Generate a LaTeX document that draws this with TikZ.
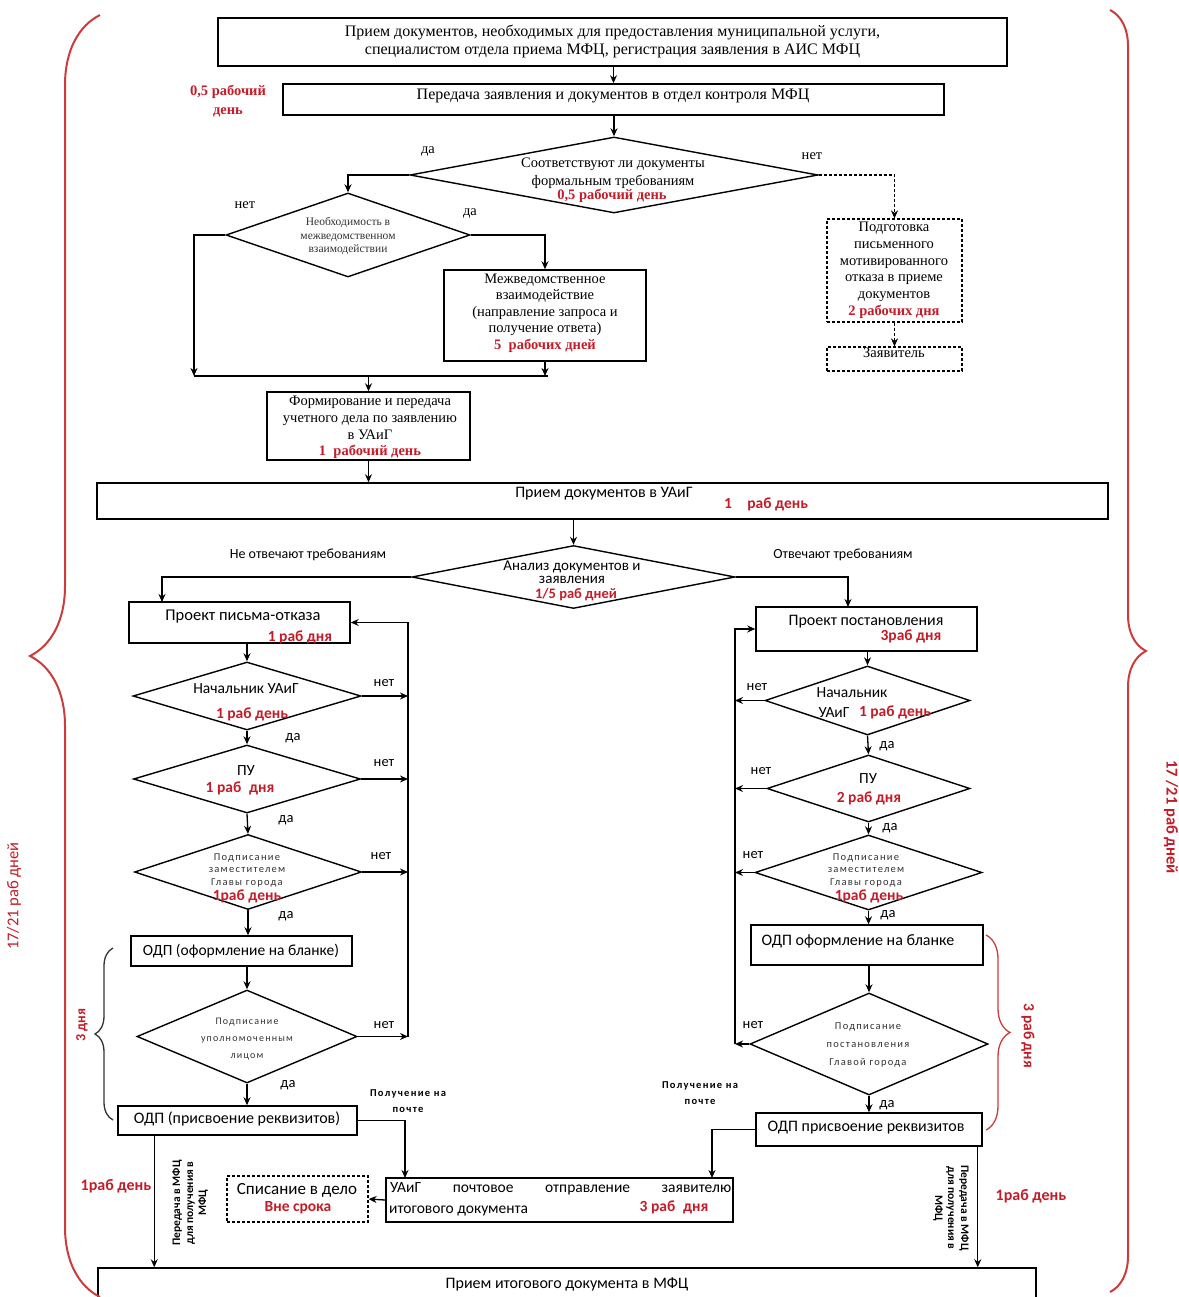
\documentclass[tikz,border=0pt]{standalone}
\usepackage{fontspec}
\setmainfont{Liberation Serif}
\newfontfamily\sansf{Carlito}
\newfontfamily\sansw{Carlito}[LetterSpace=12]
\usetikzlibrary{arrows.meta,shapes.geometric,decorations.pathreplacing,calc}
\definecolor{rd}{RGB}{196,28,40}
\definecolor{brc}{RGB}{205,60,60}
\begin{document}
\begin{tikzpicture}[x=1pt,y=-1pt,
  box/.style={draw, line width=1.5pt, rectangle, inner sep=0},
  dbox/.style={draw, densely dashed, line width=1.2pt, rectangle, inner sep=0},
  dia/.style={draw, diamond, line width=1.4pt, inner sep=0},
  conn/.style={line width=1.3pt},
  arr/.style={conn, -{Stealth[length=8pt,width=7pt]}},
  darr/.style={conn, densely dashed, -{Stealth[length=8pt,width=7pt]}},
  sr/.style={inner sep=0, align=center, font=\fontsize{16}{18}\selectfont},
  srs/.style={inner sep=0, align=center, font=\fontsize{14.5}{16.8}\selectfont},
  srr/.style={inner sep=0, align=center, text=rd, font=\bfseries\fontsize{14.5}{16}\selectfont},
  ss/.style={inner sep=0, align=center, font=\sansf\fontsize{15.5}{16}\selectfont},
  ssm/.style={inner sep=0, align=center, text=black!80, font=\sansw\fontsize{10.5}{12.5}\selectfont},
  ssr/.style={inner sep=0, align=center, text=rd, font=\sansf\bfseries\fontsize{15.5}{16}\selectfont},
  lab/.style={inner sep=0, font=\sansf\fontsize{14.5}{15}\selectfont},
  slab/.style={inner sep=0, font=\fontsize{14.5}{15}\selectfont},
  pst/.style={inner sep=0, align=center, font=\sansw\bfseries\fontsize{10.5}{16}\selectfont},
  bigbr/.style={draw=brc, line width=2pt, decorate}
]
\useasboundingbox (0,0) rectangle (1178,1297);
\fill[white] (0,0) rectangle (1178,1297);

% ---------- upper part ----------
\node[box, minimum width=789, minimum height=48] (A) at (612.5,42) {};
\node[sr] (tA) at (612.5,41) {Прием документов, необходимых для предоставления муниципальной услуги,\\специалистом отдела приема МФЦ, регистрация заявления в АИС МФЦ};
\node[box, minimum width=661, minimum height=31] (B) at (613.5,99.5) {};
\node[sr] (tB) at (613,96) {Передача заявления и документов в отдел контроля МФЦ};
\node[srr, font=\bfseries\fontsize{14.5}{19}\selectfont] (tB2) at (228,101) {0,5 рабочий\\день};

\node[dia, minimum width=408, minimum height=76] (C) at (614,175) {};
\node[srs, font=\fontsize{14.5}{18}\selectfont] (tC) at (613,173) {Соответствуют ли документы\\формальным требованиям};
\node[srr] (tC2) at (612,196) {0,5 рабочий день};
\node[slab] (da1) at (428,152) {да};
\node[slab] (net1) at (812,156) {нет};

\node[dia, minimum width=244, minimum height=84] (D) at (348,235) {};
\node[inner sep=0, align=center, text=black!80, font=\fontsize{11.5}{13.5}\selectfont] (tD) at (348,236) {Необходимость в\\межведомственном\\взаимодействии};
\node[slab] (net2) at (245,205) {нет};
\node[slab] (da2) at (470,214) {да};

\node[box, minimum width=202, minimum height=91] (F) at (545,315.5) {};
\node[srs, font=\fontsize{14.5}{16.5}\selectfont] (tF) at (545,305) {Межведомственное\\взаимодействие\\(направление запроса и\\получение ответа)};
\node[srr] (tF2) at (545,346) {5\enspace рабочих дней};

\node[dbox, minimum width=135, minimum height=103] (E) at (894.5,270.5) {};
\node[srs] (tE) at (894,262) {Подготовка\\письменного\\мотивированного\\отказа в приеме\\документов};
\node[srr] (tE2) at (894,312) {2 рабочих дня};
\node[dbox, minimum width=135, minimum height=24] (H) at (894.5,359) {};
\node[srs] (tH) at (894,353) {Заявитель};

\node[box, minimum width=203, minimum height=68] (G) at (368.5,426) {};
\node[srs, font=\fontsize{14.5}{17}\selectfont] (tG) at (370,418) {Формирование и передача\\учетного дела по заявлению\\в УАиГ};
\node[srr] (tG2) at (370,452) {1\enspace рабочий день};

\coordinate (c1) at (194,376);
\coordinate (c2) at (545,376);

\draw[arr] (A.south -| B.north) -- (B.north);
\draw[arr] (B.south -| C.north) -- (C.north);
\draw[arr] (C.west) -| (D.north);
\draw[darr] (C.east) -| (E.north);
\draw[darr] (E.south) -- (H.north);
\draw[arr] (D.west) -| (c1);
\draw[arr] (D.east) -| (F.north);
\draw[arr] (F.south) -- (c2);
\draw[conn] (c1) -- ($(c2)+(3,0)$);
\draw[arr] (c1 -| G.north) -- (G.north);

% ---------- middle ----------
\node[box, minimum width=1011, minimum height=36] (I) at (602.5,501) {};
\node[ss, font=\sansf\fontsize{16}{16}\selectfont] (tI) at (604,494) {Прием документов в УАиГ};
\node[ssr] (tI2) at (766,504) {1\quad раб день};
\draw[arr] (G.south) -- (G.south |- I.north);

\node[dia, minimum width=323, minimum height=63] (J) at (573.5,577) {};
\node[ss, font=\sansf\fontsize{15}{12.5}\selectfont] (tJ) at (572,572) {Анализ документов и\\заявления};
\node[ssr, font=\sansf\bfseries\fontsize{14.5}{15}\selectfont] (tJ2) at (576,595) {1/5 раб дней};
\node[inner sep=0, font=\sansf\fontsize{14}{14}\selectfont] (ne) at (308,555) {Не отвечают требованиям};
\node[inner sep=0, font=\sansf\fontsize{14}{14}\selectfont] (ot) at (843,555) {Отвечают требованиям};
\draw[arr] (J.north |- I.south) -- (J.north);

\coordinate (kk) at (162,602);
\coordinate (ll) at (848,607);
\node[box, minimum width=221, minimum height=41] (K) at (239.5,622.5) {};
\node[ss, font=\sansf\fontsize{16.5}{16}\selectfont] (tK) at (243,617) {Проект письма-отказа};
\node[ssr] (tK2) at (300,637) {1 раб дня};
\node[box, minimum width=221, minimum height=44] (L) at (866.5,629) {};
\node[ss, font=\sansf\fontsize{16}{16}\selectfont] (tL) at (866,622) {Проект постановления};
\node[ssr] (tL2) at (911,636) {3раб дня};
\draw[arr] (J.west) -| (kk);
\draw[arr] (J.east) -| (ll);

% ---------- left column ----------
\coordinate (rl) at (408,700);
\node[dia, minimum width=228, minimum height=68] (M) at (247,696) {};
\node[ss] (tM) at (246,689) {Начальник УАиГ};
\node[ssr] (tM2) at (252,714) {1 раб день};
\node[lab] (netM) at (384,683) {нет};
\node[lab] (daM) at (293,738) {да};

\node[dia, minimum width=227, minimum height=68] (N) at (247,779) {};
\node[ss] (tN) at (246,771) {ПУ};
\node[ssr] (tN2) at (240,788) {1 раб\enspace дня};
\node[lab] (netN) at (384,763) {нет};
\node[lab] (daN) at (286,820) {да};

\node[dia, minimum width=227, minimum height=75] (O) at (248,872) {};
\node[ssm] (tO) at (247,870) {Подписание\\заместителем\\Главы города};
\node[ssr] (tO2) at (247,896) {1раб день};
\node[lab] (netO) at (381,856) {нет};
\node[lab] (daO) at (286,916) {да};

\node[box, minimum width=221, minimum height=30] (P) at (241.5,951) {};
\node[ss] (tP) at (241,951) {ОДП (оформление на бланке)};

\node[dia, minimum width=220, minimum height=93] (Q) at (247,1036.5) {};
\node[ssm, font=\sansw\fontsize{10}{17}\selectfont] (tQ) at (247,1039) {Подписание\\уполномоченным\\лицом};
\node[lab] (netQ) at (384,1025) {нет};
\node[lab] (daQ) at (288,1085) {да};

\node[box, minimum width=239, minimum height=29] (R) at (237.5,1120.5) {};
\node[ss, font=\sansf\fontsize{16}{16}\selectfont] (tR) at (237,1119) {ОДП (присвоение реквизитов)};

\draw[arr] (M.north |- K.south) -- (M.north);
\draw[arr] (M.south) -- (N.north);
\draw[arr] (N.south) -- (O.north);
\draw[arr] (O.south) -- (O.south |- P.north);
\draw[arr] (Q.north |- P.south) -- (Q.north);
\draw[arr] (Q.south) -- (Q.south |- R.north);
\draw[arr] (M.east) -- (M.east -| rl);
\draw[arr] (N.east) -- (N.east -| rl);
\draw[arr] (O.east) -- (O.east -| rl);
\draw[arr] (Q.east) -- (Q.east -| rl);
\draw[arr] (Q.east -| rl) -- (rl |- K.east) -- (K.east);

\draw[decorate, decoration={brace, amplitude=18pt}, line width=1.3pt, draw=black!80]
  (113,1120) -- (113,948);
\node[inner sep=0, text=rd, rotate=90, font=\sansf\bfseries\fontsize{14}{14}\selectfont] (d3) at (82,1025) {3 дня};

% ---------- right column ----------
\coordinate (rr) at (735,700);
\node[dia, minimum width=205, minimum height=69] (U) at (867.5,700.5) {};
\node[ss] (tU) at (852,693) {Начальник};
\node[ss] (tU1) at (834,713) {УАиГ};
\node[ssr] (tU2) at (895,712) {1 раб день};
\node[lab] (netU) at (757,687) {нет};
\node[lab] (daU) at (887,746) {да};

\node[dia, minimum width=203, minimum height=67] (V) at (868.5,788.5) {};
\node[ss] (tV) at (868,779) {ПУ};
\node[ssr] (tV2) at (869,798) {2 раб дня};
\node[lab] (netV) at (761,771) {нет};
\node[lab] (daV) at (890,828) {да};

\node[dia, minimum width=227, minimum height=75] (W) at (868.5,872.5) {};
\node[ssm] (tW) at (866,870) {Подписание\\заместителем\\Главы города};
\node[ssr] (tW2) at (869,896) {1раб день};
\node[lab] (netW) at (753,855) {нет};
\node[lab] (daW) at (888,915) {да};

\node[box, minimum width=232, minimum height=40] (X) at (867,945) {};
\node[ss, font=\sansf\fontsize{16}{16}\selectfont] (tX) at (858,941) {ОДП оформление на бланке};

\node[dia, minimum width=238, minimum height=102] (Y) at (869,1044) {};
\node[ssm, font=\sansw\fontsize{10.5}{18}\selectfont] (tY) at (868,1045) {Подписание\\постановления\\Главой города};
\node[lab] (netY) at (753,1025) {нет};
\node[lab] (daY) at (887,1105) {да};

\node[box, minimum width=226, minimum height=33] (Z) at (869,1129.5) {};
\node[ss, font=\sansf\fontsize{16}{16}\selectfont] (tZ) at (866,1128) {ОДП присвоение реквизитов};

\draw[arr] (L.south -| U.north) -- (U.north);
\draw[arr] (U.south) -- (V.north);
\draw[arr] (V.south) -- (W.north);
\draw[arr] (W.south) -- (W.south |- X.north);
\draw[arr] (Y.north |- X.south) -- (Y.north);
\draw[arr] (Y.south) -- (Y.south |- Z.north);
\draw[arr] (U.west) -- (U.west -| rr);
\draw[arr] (V.west) -- (V.west -| rr);
\draw[arr] (W.west) -- (W.west -| rr);
\draw[arr] (Y.west) -- (Y.west -| rr);
\draw[arr] (Y.west -| rr) -- (rr |- L.west) -- (L.west);

\draw[decorate, decoration={brace, amplitude=24pt}, line width=1.3pt, draw=brc]
  (986,935) -- (986,1130);
\node[inner sep=0, text=rd, rotate=-90, font=\sansf\bfseries\fontsize{15.5}{14}\selectfont] (d3r) at (1028,1036) {3 раб дня};

% ---------- bottom ----------
\node[box, minimum width=347, minimum height=44] (S) at (559.5,1200) {};
\node[ss, anchor=west] (tS1) at (390,1189) {\hbox to 341pt{УАиГ\hfill почтовое\hfill отправление\hfill заявителю}};
\node[ss, anchor=west] (tS2) at (389,1211) {итогового документа};
\node[ssr] (tS3) at (674,1207) {3 раб\enspace дня};

\node[dbox, minimum width=141, minimum height=46] (Sp) at (297.5,1199) {};
\node[ss, font=\sansf\fontsize{17}{16}\selectfont] (tSp) at (297,1190) {Списание в дело};
\node[ssr] (tSp2) at (298,1208) {Вне срока};

\node[box, minimum width=938, minimum height=52] (T) at (567,1294) {};
\node[ss, font=\sansf\fontsize{16}{16}\selectfont] (tT) at (567,1284) {Прием итогового документа в МФЦ};

\coordinate (sl) at (405,1178);
\coordinate (srr) at (712,1178);
\coordinate (r1) at ($(R.south west)+(37,0)$);
\coordinate (z1) at ($(Z.south east)+(-5,0)$);
\draw[arr] (R.east) -| (sl);
\draw[arr] (Z.west) -| (srr);
\draw[arr] (S.west) -- (Sp.east);
\draw[arr] (r1) -- (r1 |- T.north);
\draw[arr] (z1) -- (z1 |- T.north);

\node[pst] (pl) at (408,1101) {Получение на\\почте};
\node[pst] (pr) at (700,1093) {Получение на\\почте};
\node[ssr, font=\sansf\bfseries\fontsize{16}{16}\selectfont] (dl) at (116,1186) {1раб день};
\node[ssr, font=\sansf\bfseries\fontsize{16}{16}\selectfont] (dr) at (1031,1196) {1раб день};
\node[inner sep=0, align=center, rotate=90, font=\sansf\bfseries\fontsize{11.5}{13}\selectfont] (pml) at (190,1203) {Передача в МФЦ\\для получения в\\МФЦ};
\node[inner sep=0, align=center, rotate=-90, font=\sansf\bfseries\fontsize{11.5}{13}\selectfont] (pmr) at (951,1208) {Передача в МФЦ\\для получения в\\МФЦ};

% ---------- big braces ----------
\draw[bigbr, decoration={brace, amplitude=70pt}] (100,1297) -- (100,15);
\draw[bigbr, decoration={brace, amplitude=36pt}] (1110,10) -- (1110,1292);
\node[inner sep=0, rotate=90, text=rd, font=\sansf\fontsize{16.5}{16}\selectfont] (bl) at (14,896) {17/21 раб дней};
\node[inner sep=0, rotate=-90, text=rd, font=\sansf\bfseries\fontsize{16.5}{16}\selectfont] (brl) at (1171,817) {17 /21 раб дней};
\end{tikzpicture}
\end{document}
